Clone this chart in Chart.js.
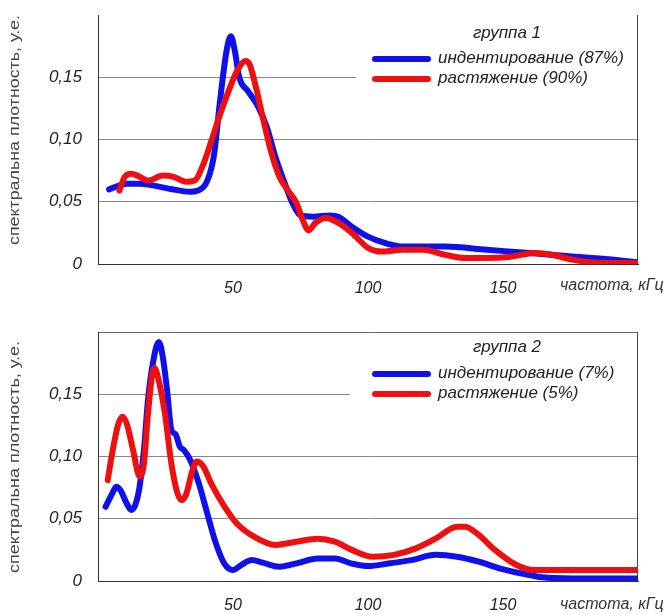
<!DOCTYPE html>
<html>
<head>
<meta charset="utf-8">
<script src="https://cdn.jsdelivr.net/npm/chart.js@4.4.0/dist/chart.umd.min.js"></script>
<style>
  html, body { margin: 0; padding: 0; background: #fff; }
  #wrap { position: relative; width: 664px; height: 614px; overflow: hidden; }
  .box { position: absolute; left: 0; width: 664px; height: 307px; }
  #b1 { top: 0; }
  #b2 { top: 307px; }
</style>
</head>
<body>
<div id="wrap">
  <div class="box" id="b1"><canvas id="c1" width="664" height="307"></canvas></div>
  <div class="box" id="b2"><canvas id="c2" width="664" height="307"></canvas></div>
</div>
<script>
// ---- data (frequency in kHz, spectral density in arb. units) ----
const xTicks = [50, 100, 150];
const yTicks = [0, 0.05, 0.10, 0.15];

const g1IndentFreq = [4.1, 10.7, 15.4, 26.4, 34, 37, 40.5, 43, 45.2, 47.6, 49.2, 50.7, 52.3, 55.5, 59.4, 62.5, 65.7, 68.8, 72, 75, 79.8, 86, 89, 94, 100, 106.5, 113, 128.5, 144, 160, 175.6, 191, 200];
const g1IndentVal  = [0.060, 0.0645, 0.0645, 0.0605, 0.058, 0.059, 0.067, 0.088, 0.131, 0.171, 0.183, 0.171, 0.150, 0.139, 0.126, 0.110, 0.086, 0.067, 0.049, 0.039, 0.038, 0.039, 0.038, 0.030, 0.022, 0.0167, 0.014, 0.014, 0.0114, 0.0088, 0.006, 0.0035, 0.0013];

const g1StretchFreq = [7.9, 9.9, 12.3, 14.6, 18.5, 24, 28, 32.7, 35.8, 39, 42, 45.2, 48.4, 51.5, 54.7, 56.2, 58.6, 61, 64, 67.2, 70.4, 73.5, 75.9, 78, 80.5, 84.5, 89, 94, 100, 105, 113, 120.6, 128.5, 136, 144, 152, 162, 168, 175.6, 183.5, 200];
const g1StretchVal  = [0.059, 0.070, 0.0725, 0.071, 0.067, 0.071, 0.070, 0.066, 0.067, 0.080, 0.099, 0.120, 0.139, 0.155, 0.163, 0.160, 0.141, 0.118, 0.091, 0.070, 0.059, 0.049, 0.035, 0.027, 0.033, 0.037, 0.033, 0.025, 0.013, 0.010, 0.0114, 0.0114, 0.0074, 0.0048, 0.0048, 0.0056, 0.0088, 0.0074, 0.0035, 0.0013, 0.0008];

const g2IndentFreq = [2.8, 5.2, 6.8, 8.3, 10.7, 12.3, 13.8, 15.4, 17, 18.5, 20.1, 22.5, 24, 25.6, 27.2, 28.7, 30.3, 31.9, 34.2, 37.4, 40.5, 43.7, 46.8, 50, 53, 57, 61, 67.2, 73.5, 81.4, 87.7, 94, 100, 108, 116, 125, 133, 141, 149, 157, 164.6, 175.6, 200];
const g2IndentVal  = [0.0596, 0.070, 0.0757, 0.073, 0.062, 0.057, 0.061, 0.0757, 0.105, 0.145, 0.172, 0.192, 0.180, 0.153, 0.121, 0.118, 0.108, 0.105, 0.097, 0.078, 0.054, 0.030, 0.014, 0.0088, 0.0128, 0.0168, 0.0147, 0.0115, 0.0142, 0.018, 0.018, 0.014, 0.012, 0.0142, 0.0168, 0.021, 0.0195, 0.0155, 0.010, 0.006, 0.003, 0.0021, 0.0021];

const g2StretchFreq = [3.6, 5.2, 7.5, 9.1, 10.7, 13, 15.4, 17, 18.5, 20.1, 20.9, 22.5, 24.8, 27.2, 29.5, 31.1, 32.7, 35, 36.6, 39, 42, 46.8, 51.5, 57.8, 65.7, 73.5, 81.4, 87.7, 94, 101.8, 109.6, 117.5, 125, 133, 136, 141, 147, 155, 161.5, 175.6, 200];
const g2StretchVal  = [0.081, 0.102, 0.126, 0.132, 0.126, 0.105, 0.084, 0.094, 0.134, 0.166, 0.171, 0.161, 0.134, 0.094, 0.070, 0.065, 0.070, 0.089, 0.096, 0.092, 0.078, 0.060, 0.046, 0.0356, 0.029, 0.0316, 0.034, 0.0316, 0.025, 0.0195, 0.021, 0.026, 0.034, 0.0436, 0.0436, 0.037, 0.025, 0.0128, 0.0088, 0.0088, 0.0088];

const groupTitles = ['группа 1', 'группа 2'];
const g1Labels = ['индентирование (87%)', 'растяжение (90%)'];
const g2Labels = ['индентирование (7%)', 'растяжение (5%)'];
const yTitle = 'спектральна плотность, у.е.';
const xTitle = 'частота, кГц';

const BLUE = '#1010ea';
const RED = '#ee1010';
const FONT = '"Liberation Sans", Arial, sans-serif';

function pts(xs, ys) { return xs.map((x, i) => ({ x: x, y: ys[i] })); }

function makeChart(canvasId, indent, stretch, labels, title, cfg) {
  const ds = (name, data, color, order) => ({
    label: name, data: data, borderColor: color, backgroundColor: color,
    borderWidth: 6, pointRadius: 0, cubicInterpolationMode: 'monotone',
    borderCapStyle: 'round', borderJoinStyle: 'round', fill: false, order: order
  });

  const decor = {
    id: 'decor',
    beforeDatasetsDraw(chart) {
      const ctx = chart.ctx;
      const a = chart.chartArea;
      ctx.save();
      // legend background (covers gridlines)
      ctx.fillStyle = '#fff';
      ctx.fillRect(cfg.legendBoxLeft, a.top + 2, a.right - 1 - cfg.legendBoxLeft, cfg.legendBoxH);
      // right frame line
      ctx.strokeStyle = '#444';
      ctx.lineWidth = 1;
      ctx.beginPath();
      ctx.moveTo(Math.round(a.right) - 0.5, a.top);
      ctx.lineTo(Math.round(a.right) - 0.5, a.bottom);
      ctx.stroke();
      // legend title
      ctx.fillStyle = '#222';
      ctx.font = 'italic 17px ' + FONT;
      ctx.textAlign = 'center';
      ctx.textBaseline = 'middle';
      ctx.fillText(title, 507, cfg.titleY);
      // entries (in dataset order: indentation, stretching)
      const sets = chart.data.datasets.slice().sort((p, q) => q.order - p.order);
      sets.forEach((d, i) => {
        const y = cfg.entryY[i];
        ctx.strokeStyle = d.borderColor;
        ctx.lineWidth = 6;
        ctx.lineCap = 'round';
        ctx.beginPath();
        ctx.moveTo(375, y + 1);
        ctx.lineTo(428, y + 1);
        ctx.stroke();
        ctx.fillStyle = '#222';
        ctx.textAlign = 'left';
        ctx.fillText(d.label, 438, y);
      });
      ctx.restore();
    },
    afterDraw(chart) {
      const ctx = chart.ctx;
      ctx.save();
      // x axis title
      ctx.fillStyle = '#333';
      ctx.font = 'italic 16px ' + FONT;
      ctx.textAlign = 'left';
      ctx.textBaseline = 'middle';
      ctx.fillText(xTitle, 560, cfg.xTitleY);
      // y axis title (stretched along its length to match)
      ctx.translate(15, cfg.yTitleCenter);
      ctx.rotate(-Math.PI / 2);
      ctx.fillStyle = '#444';
      ctx.font = '15px ' + FONT;
      const w = ctx.measureText(yTitle).width;
      ctx.scale(cfg.yTitleLen / w, 1);
      ctx.textAlign = 'center';
      ctx.fillText(yTitle, 0, 0);
      ctx.restore();
    }
  };

  return new Chart(document.getElementById(canvasId), {
    type: 'line',
    data: {
      datasets: [
        ds(labels[0], pts(indent[0], indent[1]), BLUE, 2),
        ds(labels[1], pts(stretch[0], stretch[1]), RED, 1)
      ]
    },
    options: {
      responsive: false,
      animation: false,
      events: [],
      layout: { padding: { top: cfg.top, right: 26, bottom: 0, left: 0 } },
      plugins: { legend: { display: false }, tooltip: { enabled: false } },
      scales: {
        x: {
          type: 'linear', min: 0, max: 200,
          afterBuildTicks(s) { s.ticks = [0].concat(xTicks, [200]).map(v => ({ value: v })); },
          afterFit(s) { s.height = cfg.xAxisH; s.paddingLeft = 0; s.paddingRight = 0; },
          ticks: {
            padding: cfg.xTickPad, color: '#222',
            font: { family: FONT, size: 16, style: 'italic' },
            callback: (v) => xTicks.includes(v) ? String(v) : ''
          },
          grid: {
            drawTicks: false,
            color: 'rgba(0,0,0,0)',
            lineWidth: 1
          },
          border: { display: true, color: '#333', width: 1 }
        },
        y: {
          min: 0, max: 0.2,
          afterBuildTicks(s) { s.ticks = yTicks.concat([0.2]).map(v => ({ value: v })); },
          afterFit(s) { s.width = 98; s.paddingTop = 0; s.paddingBottom = 0; },
          ticks: {
            padding: 16, color: '#222',
            font: { family: FONT, size: 17, style: 'italic' },
            callback: (v) => v === 0 ? '0' : (v > 0.19 ? '' : v.toFixed(2).replace('.', ','))
          },
          grid: {
            drawTicks: false,
            color: (c) => {
              const v = c.tick ? c.tick.value : 0;
              if (v === 0) return 'rgba(0,0,0,0)';
              if (v > 0.19) return cfg.topBorder ? '#666' : 'rgba(0,0,0,0)';
              return '#888';
            },
            lineWidth: 1
          },
          border: { display: true, color: '#333', width: 1 }
        }
      }
    },
    plugins: [decor]
  });
}

makeChart('c1', [g1IndentFreq, g1IndentVal], [g1StretchFreq, g1StretchVal], g1Labels, groupTitles[0], {
  top: 15, xAxisH: 43, xTickPad: 15, topBorder: false,
  legendBoxLeft: 356, legendBoxH: 85, titleY: 33, entryY: [58, 78],
  xTitleY: 286, yTitleCenter: 130, yTitleLen: 230
});
makeChart('c2', [g2IndentFreq, g2IndentVal], [g2StretchFreq, g2StretchVal], g2Labels, groupTitles[1], {
  top: 25, xAxisH: 33, xTickPad: 15, topBorder: true,
  legendBoxLeft: 350, legendBoxH: 80, titleY: 40, entryY: [66, 86],
  xTitleY: 298, yTitleCenter: 150, yTitleLen: 232
});
</script>
</body>
</html>
